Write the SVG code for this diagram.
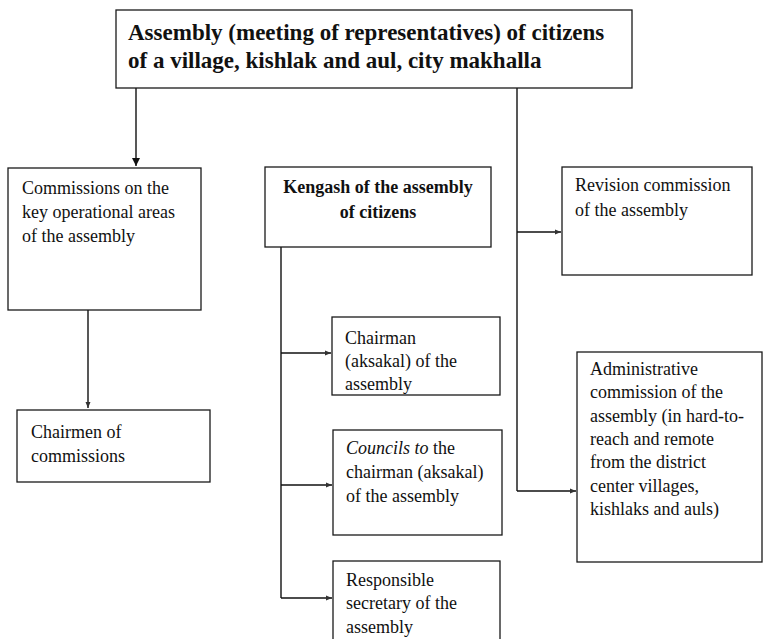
<svg xmlns="http://www.w3.org/2000/svg" width="763" height="639" viewBox="0 0 763 639">
<defs>
<style>
.box{fill:#fff;stroke:#1a1a1a;stroke-width:1.3}
.t{font-family:'Liberation Serif','Tinos','Times New Roman','Nimbus Roman','DejaVu Serif',serif;font-size:18px;fill:#111}
.b{font-weight:bold}
.c{fill:none;stroke:#111;stroke-width:1.4}
</style>
<marker id="big" markerWidth="10" markerHeight="10" refX="8" refY="4" orient="auto" markerUnits="userSpaceOnUse">
<path d="M0,0 L8,4 L0,8 Z" fill="#111"/>
</marker>
<marker id="sm" markerWidth="8" markerHeight="8" refX="6" refY="3" orient="auto" markerUnits="userSpaceOnUse">
<path d="M0,0.5 L6,3 L0,5.5 Z" fill="#333"/>
</marker>
</defs>
<rect width="763" height="639" fill="#fff"/>
<g id="connectors">
<path class="c" d="M136,88 V166" marker-end="url(#big)"/>
<path class="c" d="M88,310 V408" marker-end="url(#sm)"/>
<path class="c" d="M517,88 V491"/>
<path class="c" d="M517,232 H561" marker-end="url(#sm)"/>
<path class="c" d="M517,491 H576" marker-end="url(#sm)"/>
<path class="c" d="M281,247 V598"/>
<path class="c" d="M281,353 H331" marker-end="url(#sm)"/>
<path class="c" d="M281,485 H332" marker-end="url(#sm)"/>
<path class="c" d="M281,598 H332" marker-end="url(#sm)"/>
</g>
<g id="assembly">
<rect class="box" x="116" y="10" width="516" height="78"/>
<text class="t b" x="128" y="40" font-family="Liberation Serif, serif" style="font-size:23px">Assembly (meeting of representatives) of citizens</text>
<text class="t b" x="128" y="68" font-family="Liberation Serif, serif" style="font-size:23px">of a village, kishlak and aul, city makhalla</text>
</g>
<g id="commissions">
<rect class="box" x="8" y="168" width="193" height="142"/>
<text class="t" x="22" y="194">Commissions on the</text>
<text class="t" x="22" y="218">key operational areas</text>
<text class="t" x="22" y="242">of the assembly</text>
</g>
<g id="chairmen">
<rect class="box" x="17" y="410" width="193" height="72"/>
<text class="t" x="31" y="438">Chairmen of</text>
<text class="t" x="31" y="462">commissions</text>
</g>
<g id="kengash">
<rect class="box" x="265" y="167" width="226" height="80"/>
<text class="t b" x="378" y="193" text-anchor="middle">Kengash of the assembly</text>
<text class="t b" x="378" y="218" text-anchor="middle">of citizens</text>
</g>
<g id="chairman">
<rect class="box" x="332" y="317" width="168" height="78"/>
<text class="t" x="345" y="344">Chairman</text>
<text class="t" x="345" y="367">(aksakal) of the</text>
<text class="t" x="345" y="390">assembly</text>
</g>
<g id="councils">
<rect class="box" x="333" y="430" width="169" height="105"/>
<text class="t" x="346" y="454"><tspan font-style="italic">Councils to</tspan> the</text>
<text class="t" x="346" y="478">chairman (aksakal)</text>
<text class="t" x="346" y="502">of the assembly</text>
</g>
<g id="secretary">
<rect class="box" x="333" y="561" width="167" height="90"/>
<text class="t" x="346" y="586">Responsible</text>
<text class="t" x="346" y="609">secretary of the</text>
<text class="t" x="346" y="633">assembly</text>
</g>
<g id="revision">
<rect class="box" x="562" y="167" width="190" height="108"/>
<text class="t" x="575" y="191">Revision commission</text>
<text class="t" x="575" y="216">of the assembly</text>
</g>
<g id="administrative">
<rect class="box" x="577" y="352" width="185" height="210"/>
<text class="t" x="590" y="375">Administrative</text>
<text class="t" x="590" y="398">commission of the</text>
<text class="t" x="590" y="422">assembly (in hard-to-</text>
<text class="t" x="590" y="445">reach and remote</text>
<text class="t" x="590" y="468">from the district</text>
<text class="t" x="590" y="492">center villages,</text>
<text class="t" x="590" y="515">kishlaks and auls)</text>
</g>
</svg>
